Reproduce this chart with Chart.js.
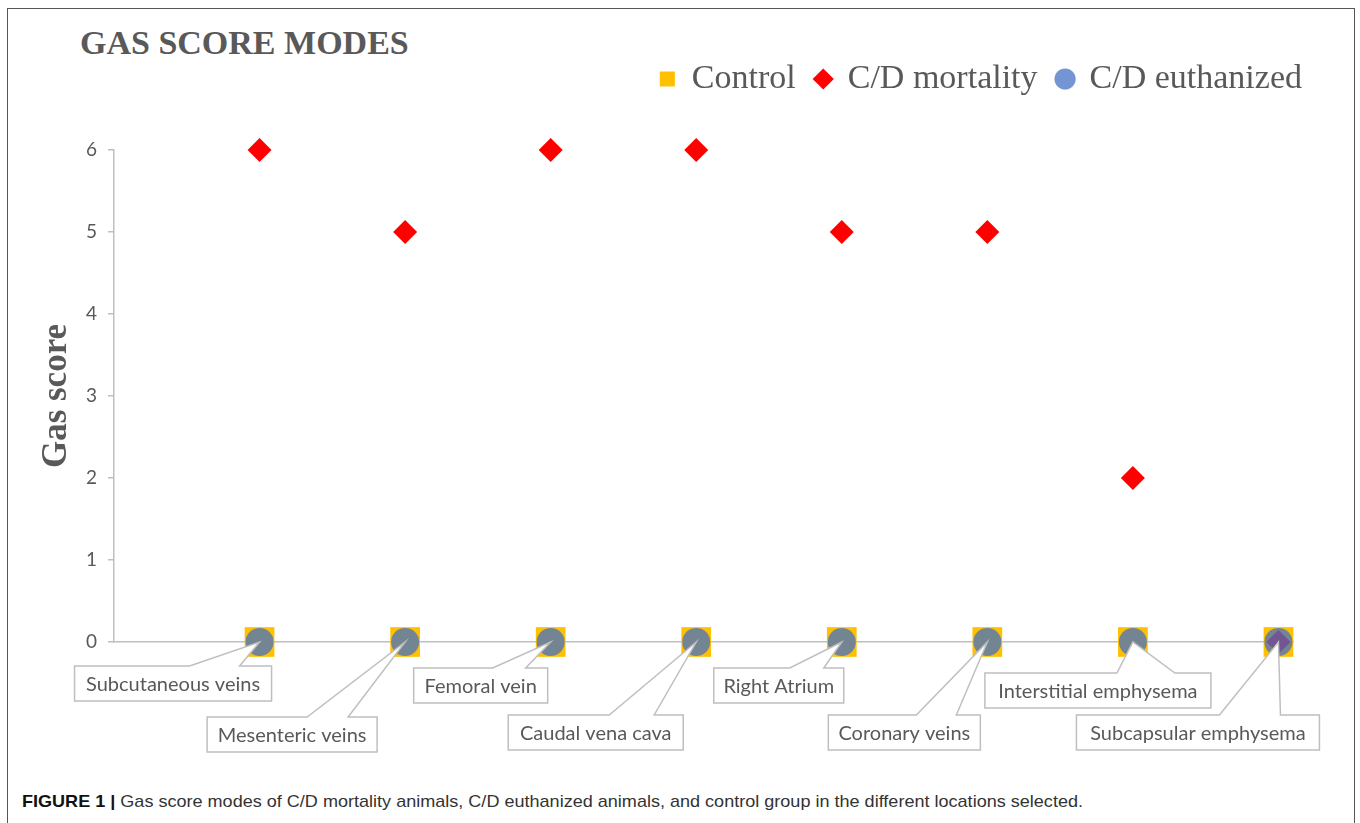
<!DOCTYPE html>
<html lang="en">
  <head>
    <meta charset="UTF-8">
    <title>Gas score modes</title>
    <style>
      body { margin: 0; background: #fff; }
      #frame { position: absolute; left: 7px; top: 8px; width: 1346px; height: 830px; border: 1.5px solid #555; }
      #title { position: absolute; left: 80px; top: 26px; font: bold 34px/34px "Liberation Serif", serif; color: #595959; }
      #wrap { position: absolute; left: 8px; top: 9px; width: 1346px; height: 751px; }
      #caption { position: absolute; left: 22px; top: 793px; font: 17px/17px "Liberation Sans", Arial, sans-serif; color: #333; white-space: nowrap; transform-origin: 0 0; }
      #caption b { color: #111; }
    </style>
    <script src="https://cdn.jsdelivr.net/npm/chart.js"></script>
  </head>

  <body>
    <div id="frame"></div>
    <div id="title">GAS SCORE MODES</div>
    <div id="wrap"><canvas id="myChart"></canvas></div>
    <div id="caption"><b>FIGURE 1 |</b> Gas score modes of C/D mortality animals, C/D euthanized animals, and control group in the different locations selected.</div>

<script>
  const categories = ['Subcutaneous veins', 'Mesenteric veins', 'Femoral vein', 'Caudal vena cava',
                      'Right Atrium', 'Coronary veins', 'Interstitial emphysema', 'Subcapsular emphysema'];
  const control    = [0, 0, 0, 0, 0, 0, 0, 0];
  const mortality  = [6, 5, 6, 6, 5, 5, 2, 0];
  const euthanized = [0, 0, 0, 0, 0, 0, 0, 0];
  const yTicks = [0, 1, 2, 3, 4, 5, 6];

  // callout boxes, offsets from the point (left, top, width, base of the pointer)
  const callouts = [
    {dx: -185, dy: 24, w: 197, b1: -70, b2: -20},
    {dx: -198, dy: 75, w: 170, b1: -98, b2: -57},
    {dx: -137, dy: 26, w: 134, b1: -58, b2: -25},
    {dx: -188, dy: 73, w: 175, b1: -87, b2: -42},
    {dx: -128, dy: 26, w: 130, b1: -52, b2: -18},
    {dx: -159, dy: 73, w: 152, b1: -71, b2: -31},
    {dx: -148, dy: 31, w: 226, b1: -16, b2: 42},
    {dx: -202, dy: 73, w: 243, b1: -59, b2: 2},
  ];

  const toPoints = arr => arr.map((v, i) => ({x: i + 1, y: v}));

  const calloutPlugin = {
    id: 'callouts',
    afterDatasetsDraw(chart) {
      const {ctx, scales: {x, y}} = chart;
      ctx.save();
      ctx.font = '20px Lato';
      ctx.textAlign = 'center';
      ctx.textBaseline = 'middle';
      categories.forEach((name, i) => {
        const px = x.getPixelForValue(i + 1);
        const py = y.getPixelForValue(control[i]);
        const c = callouts[i];
        const left = px + c.dx, top = py + c.dy, h = 35;
        ctx.beginPath();
        ctx.moveTo(left, top);
        ctx.lineTo(px + c.b1, top);
        ctx.lineTo(px, py);
        ctx.lineTo(px + c.b2, top);
        ctx.lineTo(left + c.w, top);
        ctx.lineTo(left + c.w, top + h);
        ctx.lineTo(left, top + h);
        ctx.closePath();
        ctx.fillStyle = '#fff';
        ctx.fill();
        ctx.strokeStyle = '#bfbfbf';
        ctx.lineWidth = 1.5;
        ctx.stroke();
        ctx.fillStyle = '#595959';
        ctx.fillText(name, left + c.w / 2, top + h / 2 + 1);
      });
      ctx.restore();
    }
  };

  // move the legend up and right, like the Excel original
  const legendNudge = {
    id: 'legendNudge',
    afterLayout(chart) {
      const lg = chart.legend;
      lg.left += 29; lg.right += 29;
      lg.top -= 44; lg.bottom -= 44;
    }
  };

  const ctx = document.getElementById('myChart');

  new Chart(ctx, {
    type: 'scatter',
    data: {
      datasets: [
        {
          label: 'Control',
          data: toPoints(control),
          pointStyle: 'rect',
          pointRadius: 21,
          pointHoverRadius: 21,
          backgroundColor: '#FFC000',
          borderWidth: 0,
          order: 3,
        },
        {
          label: 'C/D mortality',
          data: toPoints(mortality),
          pointStyle: 'rectRot',
          pointRadius: 12,
          pointHoverRadius: 12,
          backgroundColor: '#FF0000',
          borderWidth: 0,
          order: 2,
        },
        {
          label: 'C/D euthanized',
          data: toPoints(euthanized),
          pointStyle: 'circle',
          pointRadius: 14,
          pointHoverRadius: 14,
          backgroundColor: 'rgba(68, 114, 196, 0.75)',
          borderWidth: 0,
          order: 1,
        },
      ]
    },
    options: {
      responsive: true,
      maintainAspectRatio: false,
      animation: false,
      clip: false,
      layout: { padding: {top: 77, right: 61, bottom: 118, left: 0} },
      plugins: {
        tooltip: { enabled: false },
        legend: {
          position: 'top',
          align: 'end',
          reverse: true,
          labels: {
            usePointStyle: true,
            boxWidth: 15,
            boxHeight: 15,
            padding: 20,
            color: '#595959',
            font: { family: 'Liberation Serif', size: 34 },
          }
        }
      },
      scales: {
        x: {
          type: 'linear',
          min: 0,
          max: 8.1,
          ticks: { display: false },
          grid: { display: false },
          border: { color: '#bfbfbf', width: 1.5 },
          afterFit(scale) { scale.height = 0; },
        },
        y: {
          min: 0,
          max: 6,
          afterBuildTicks(scale) { scale.ticks = yTicks.map(v => ({value: v})); },
          ticks: {
            padding: 11,
            color: '#595959',
            font: { family: 'Lato', size: 19 },
          },
          grid: { drawOnChartArea: false, tickLength: 6, color: '#bfbfbf', lineWidth: 1.5 },
          border: { color: '#bfbfbf', width: 1.5 },
          title: {
            display: true,
            text: 'Gas score',
            color: '#595959',
            font: { family: 'Liberation Serif', size: 35, weight: 'bold' },
            padding: {top: 28, bottom: 0},
          },
          afterFit(scale) { scale.width = 106; },
        }
      }
    },
    plugins: [calloutPlugin, legendNudge]
  });

  // squeeze the caption to the width of the narrow original font
  const cap = document.getElementById('caption');
  cap.style.transform = 'scaleX(' + (1061 / cap.getBoundingClientRect().width) + ')';
</script>

  </body>
</html>
